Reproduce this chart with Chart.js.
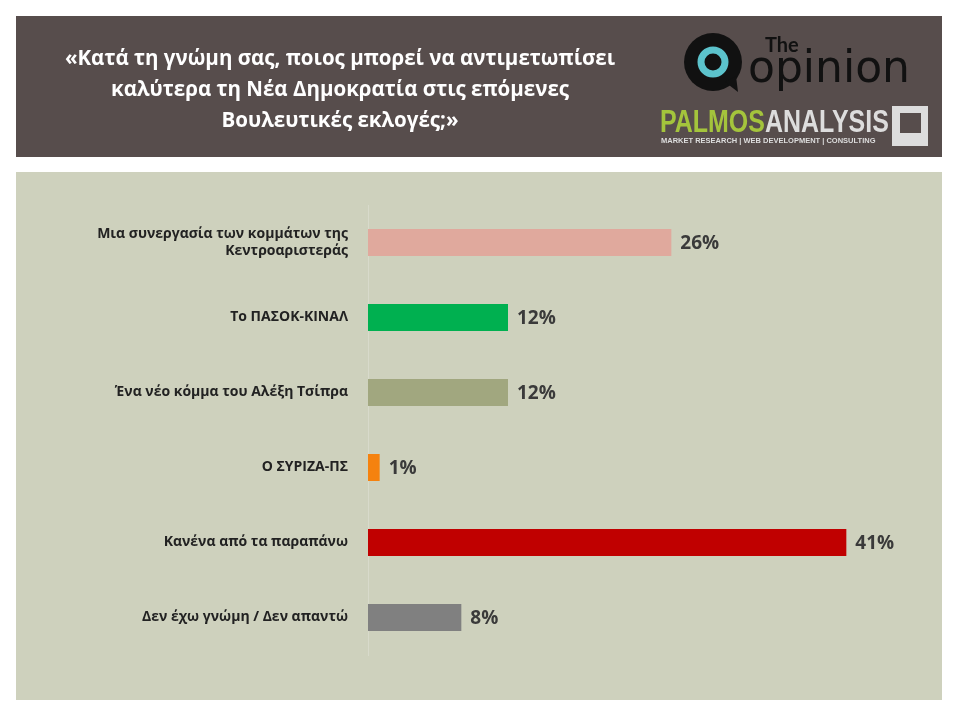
<!DOCTYPE html>
<html>
<head>
<meta charset="utf-8">
<script src="https://cdn.jsdelivr.net/npm/chart.js@4"></script>
<style>
  body { margin: 0; background: #fff; }
  #wrap { width: 960px; height: 720px; position: relative; }
</style>
</head>
<body>
<div id="wrap"><canvas id="chart1" width="960" height="720"></canvas></div>
<script>
const answers = [
  ['Μια συνεργασία των κομμάτων της', 'Κεντροαριστεράς'],
  'Το ΠΑΣΟΚ-ΚΙΝΑΛ',
  'Ένα νέο κόμμα του Αλέξη Τσίπρα',
  'Ο ΣΥΡΙΖΑ-ΠΣ',
  'Κανένα από τα παραπάνω',
  'Δεν έχω γνώμη / Δεν απαντώ'
];
const shares = [26, 12, 12, 1, 41, 8];
const barColors = ['#e0a99d', '#00b050', '#a1a77f', '#f5820f', '#c00000', '#808080'];
const question = ['«Κατά τη γνώμη σας, ποιος μπορεί να αντιμετωπίσει', 'καλύτερα τη Νέα Δημοκρατία στις επόμενες', 'Βουλευτικές εκλογές;»'];

const backdrop = {
  id: 'backdrop',
  beforeDraw(chart) {
    const c = chart.ctx;
    c.save();
    c.fillStyle = '#fff';
    c.fillRect(0, 0, 960, 720);
    c.fillStyle = '#574d4c';
    c.fillRect(16, 16, 926, 141);
    c.fillStyle = '#ced1bd';
    c.fillRect(16, 172, 926, 528);
    c.fillStyle = '#fff';
    c.font = 'bold 20.5px "Open Sans", sans-serif';
    c.textAlign = 'center';
    question.forEach((l, i) => c.fillText(l, 340, 65 + i * 31));
    // logo
    c.fillStyle = '#111';
    c.beginPath(); c.arc(713, 62, 29, 0, Math.PI * 2); c.fill();
    c.beginPath(); c.moveTo(725, 82); c.lineTo(738, 92); c.lineTo(736, 76); c.fill();
    c.strokeStyle = '#5cc3cc'; c.lineWidth = 7;
    c.beginPath(); c.arc(713, 62, 12, 0, Math.PI * 2); c.stroke();
    c.textAlign = 'left';
    c.fillStyle = '#111';
    c.font = 'bold 20px Lato, sans-serif';
    c.fillText('The', 765, 52);
    c.font = '44px "DejaVu Sans", sans-serif';
    c.fillText('opinion', 748, 82);
    c.save();
    c.translate(660, 132);
    c.scale(0.78, 1);
    c.font = 'bold 32px "Liberation Sans", sans-serif';
    c.fillStyle = '#a4c43c';
    c.fillText('PALMOS', 0, 0);
    const w = c.measureText('PALMOS').width;
    c.fillStyle = '#ddd';
    c.fillText('ANALYSIS', w, 0);
    c.restore();
    c.fillStyle = '#ddd';
    c.font = 'bold 7.5px "Liberation Sans", sans-serif';
    c.fillText('MARKET RESEARCH | WEB DEVELOPMENT | CONSULTING', 661, 143);
    c.fillRect(892, 106, 36, 40);
    c.fillStyle = '#574d4c';
    c.fillRect(900, 113, 21, 20);
    c.restore();
  },
  afterDatasetsDraw(chart) {
    const c = chart.ctx;
    const meta = chart.getDatasetMeta(0);
    c.save();
    c.fillStyle = '#3a3a3a';
    c.font = 'bold 19px "Open Sans", sans-serif';
    c.textBaseline = 'middle';
    meta.data.forEach((bar, i) => {
      c.fillText(shares[i] + '%', bar.x + 9, bar.y + 1);
    });
    c.restore();
  }
};

new Chart(document.getElementById('chart1'), {
  type: 'bar',
  data: {
    labels: answers,
    datasets: [{
      data: shares,
      backgroundColor: barColors,
      barPercentage: 0.36,
      categoryPercentage: 1
    }]
  },
  options: {
    indexAxis: 'y',
    responsive: false,
    animation: false,
    layout: { padding: { top: 205, bottom: 65, right: 67, left: 0 } },
    plugins: { legend: { display: false }, tooltip: { enabled: false } },
    scales: {
      x: { display: false, min: 0, max: 45 },
      y: {
        afterFit(s) { s.width = 368; },
        grid: { display: false, drawTicks: false },
        border: { color: '#d8dacb', width: 1 },
        ticks: {
          color: '#222',
          padding: 20,
          font: { family: '"Open Sans", sans-serif', weight: 'bold', size: 14 }
        }
      }
    }
  },
  plugins: [backdrop]
});
</script>
</body>
</html>
